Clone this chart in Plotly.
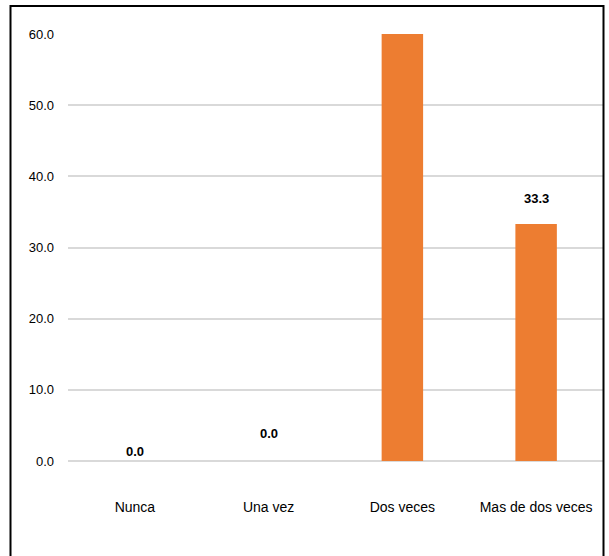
import plotly.graph_objects as go

categories = ["Nunca", "Una vez", "Dos veces", "Mas de dos veces"]
values = [0.0, 0.0, 66.7, 33.3]
y_ticks = [0, 10, 20, 30, 40, 50, 60]
y_tick_labels = ["0.0", "10.0", "20.0", "30.0", "40.0", "50.0", "60.0"]

# style: vertical pixel offsets of the value labels
label_shift = [10, 28, 26, 26]

Y_MAX = 60
FONT = "Liberation Sans, Arial, sans-serif"

fig = go.Figure()
fig.add_trace(go.Bar(
    x=categories, y=values,
    marker=dict(color="#ED7D31", line=dict(width=0)),
    hoverinfo="x+y",
))

for c, v, s in zip(categories, values, label_shift):
    if v <= Y_MAX:
        fig.add_annotation(
            x=c, y=v, text=f"{v:.1f}", showarrow=False,
            yanchor="middle", yshift=s,
            font=dict(family=FONT, size=13, color="#000000", weight="bold"),
        )

# outer border
L, R, T, B = 68, 603, 34, 461
W, H = 609, 556
def px_to_paper_x(px):
    return (px - L) / (R - L)
def px_to_paper_y(py):
    return (B - py) / (B - T)

fig.add_shape(type="rect", xref="paper", yref="paper",
              x0=px_to_paper_x(10.5), x1=px_to_paper_x(603.5),
              y0=px_to_paper_y(570), y1=px_to_paper_y(6),
              line=dict(color="#000000", width=2), fillcolor="rgba(0,0,0,0)",
              layer="above")

fig.update_layout(
    width=W, height=H,
    margin=dict(l=L, r=W - R, t=T, b=H - B),
    paper_bgcolor="white", plot_bgcolor="white",
    bargap=0.69,
    showlegend=False,
    font=dict(family=FONT, color="#000000"),
    xaxis=dict(
        showgrid=False, showline=False, zeroline=False,
        ticks="", ticklabelstandoff=36,
        tickfont=dict(family=FONT, size=14, color="#000000"),
    ),
    yaxis=dict(
        range=[0, Y_MAX], tickvals=y_ticks, ticktext=y_tick_labels,
        showgrid=True, gridcolor="#d9d9d9", gridwidth=2,
        zeroline=True, zerolinecolor="#d9d9d9", zerolinewidth=2,
        showline=False, ticks="", ticklabelstandoff=13,
        tickfont=dict(family=FONT, size=13, color="#000000"),
    ),
)

fig.write_html("out.html", config={"displayModeBar": False},
               post_script="document.body.style.margin='0';")
